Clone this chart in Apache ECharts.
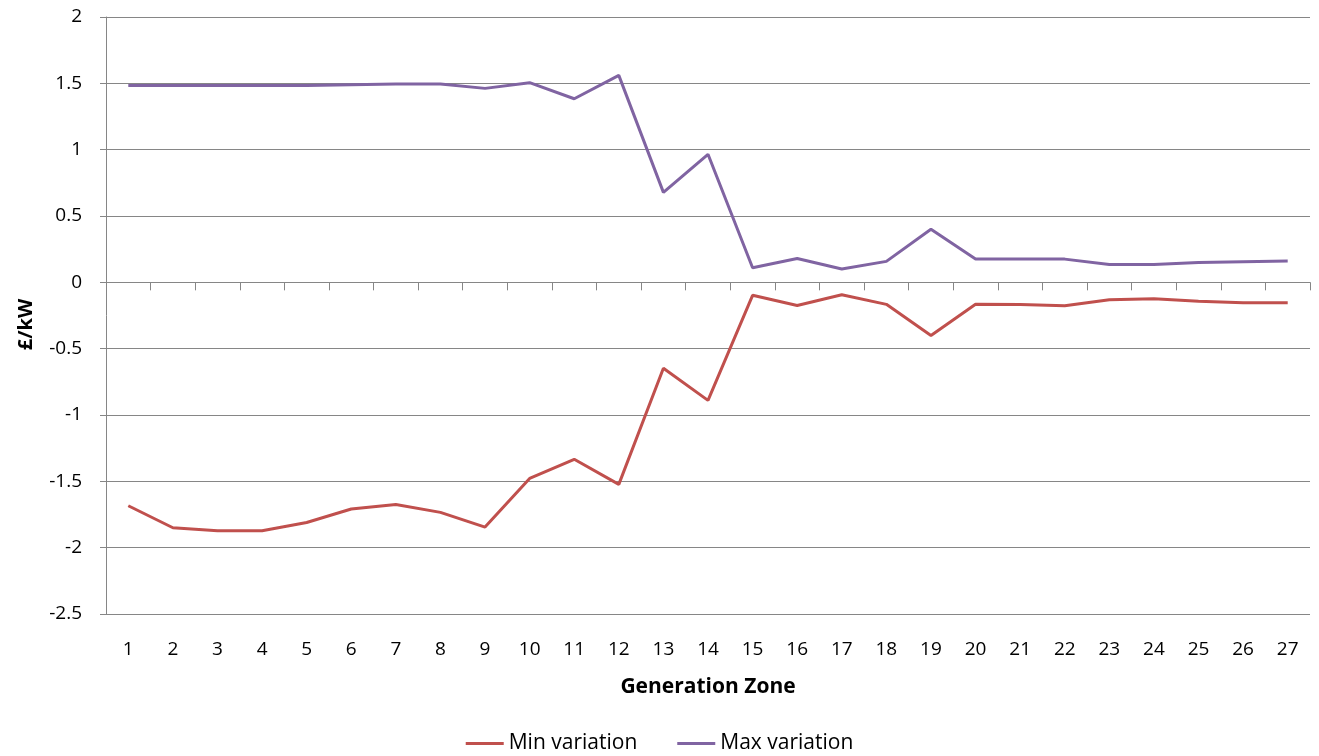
<!DOCTYPE html>
<html>
<head>
<meta charset="utf-8">
<script src="https://cdn.jsdelivr.net/npm/echarts@6/dist/echarts.min.js"></script>
<style>
html,body{margin:0;padding:0;background:#fff;}
#c{width:1319px;height:756px;}
</style>
</head>
<body>
<div id="c"></div>
<script>
const zones = ['1','2','3','4','5','6','7','8','9','10','11','12','13','14','15','16','17','18','19','20','21','22','23','24','25','26','27'];
const minVariation = [-1.684,-1.85,-1.872,-1.872,-1.81,-1.709,-1.674,-1.734,-1.845,-1.478,-1.334,-1.523,-0.647,-0.89,-0.098,-0.174,-0.093,-0.166,-0.40,-0.166,-0.168,-0.176,-0.131,-0.124,-0.143,-0.153,-0.153];
const maxVariation = [1.483,1.483,1.483,1.483,1.483,1.49,1.495,1.495,1.462,1.505,1.384,1.56,0.678,0.965,0.11,0.18,0.10,0.158,0.40,0.175,0.175,0.175,0.135,0.135,0.15,0.155,0.16];

const font = "'Open Sans', 'Liberation Sans', sans-serif";
const chart = echarts.init(document.getElementById('c'));
chart.setOption({
  animation: false,
  textStyle: {fontFamily: font},
  grid: {left: 106, right: 9, top: 17, bottom: 142, containLabel: false},
  legend: {
    bottom: -3, left: 'center',
    icon: 'rect',
    itemWidth: 38, itemHeight: 3, itemGap: 40,
    textStyle: {fontSize: 21, color: '#000', fontFamily: font},
    data: ['Min variation', 'Max variation']
  },
  xAxis: [
    {
      type: 'category', data: zones, boundaryGap: true, position: 'bottom',
      axisLine: {onZero: true, lineStyle: {color: '#868686', width: 1}},
      axisTick: {show: true, length: 8, lineStyle: {color: '#868686'}},
      axisLabel: {show: false},
      splitLine: {show: false}
    },
    {
      type: 'category', data: zones, boundaryGap: true, position: 'bottom',
      axisLine: {show: false, onZero: false},
      axisTick: {show: false},
      axisLabel: {show: true, margin: 26, fontSize: 19, color: '#000', fontFamily: font},
      name: 'Generation Zone', nameLocation: 'middle', nameGap: 63,
      nameTextStyle: {fontSize: 21, fontWeight: 'bold', color: '#000', fontFamily: font}
    }
  ],
  yAxis: {
    type: 'value', min: -2.5, max: 2, interval: 0.5,
    axisLine: {show: true, lineStyle: {color: '#868686'}},
    axisTick: {show: true, length: 6, lineStyle: {color: '#868686'}},
    axisLabel: {fontSize: 19, color: '#000', margin: 24, fontFamily: font},
    splitLine: {lineStyle: {color: '#868686', width: 1}},
    name: '£/kW', nameLocation: 'middle', nameGap: 70, nameRotate: 90,
    nameTextStyle: {fontSize: 20, fontWeight: 'bold', color: '#000', fontFamily: font, padding: [0, 0, 0, -18]}
  },
  series: [
    {
      name: 'Min variation', type: 'line', data: minVariation, xAxisIndex: 0,
      symbol: 'none', lineStyle: {color: '#C0504D', width: 3}, itemStyle: {color: '#C0504D'}
    },
    {
      name: 'Max variation', type: 'line', data: maxVariation, xAxisIndex: 0,
      symbol: 'none', lineStyle: {color: '#8064A2', width: 3}, itemStyle: {color: '#8064A2'}
    }
  ]
});
</script>
</body>
</html>
